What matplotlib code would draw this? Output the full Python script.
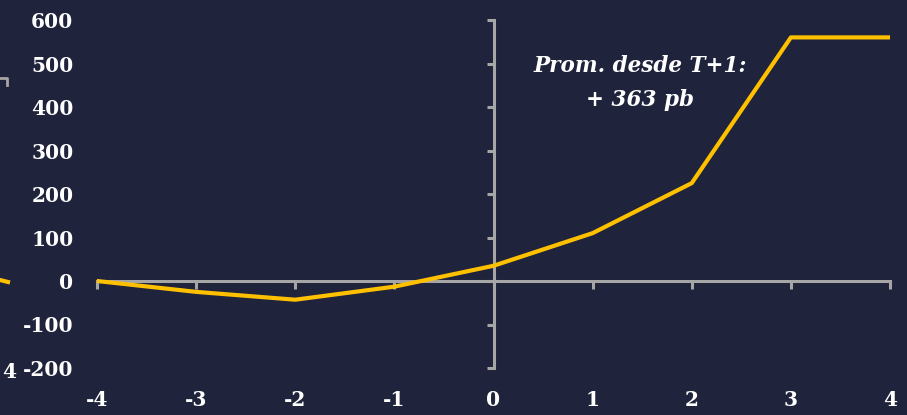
import matplotlib.pyplot as plt
from matplotlib.lines import Line2D

# data
periods = [-4, -3, -2, -1, 0, 1, 2, 3, 4]
spread_change = [0, -25, -43, -13, 35, 110, 225, 560, 560]
yticks = [-200, -100, 0, 100, 200, 300, 400, 500, 600]
note = "Prom. desde T+1:\n+ 363 pb"

bg = '#1f233b'
grey = '#a6a6a6'
yellow = '#ffc000'

plt.rcParams['font.family'] = ['DejaVu Serif']
plt.rcParams['font.weight'] = 'bold'
plt.rcParams['axes.unicode_minus'] = False

fig = plt.figure(figsize=(9.07, 4.15), dpi=100, facecolor=bg)
W, H = 907, 415
rect = [97 / W, 1 - 368 / H, (890 - 97) / W, (368 - 20) / H]

# axes carrying only the tick labels (low position)
ax = fig.add_axes(rect)
ax.set_facecolor(bg)
ax.set_xlim(-4, 4)
ax.set_ylim(-200, 600)
ax.set_xticks(periods)
ax.set_yticks(yticks)
for s in ax.spines.values():
    s.set_visible(False)
ax.tick_params(axis='y', length=0, pad=17, labelsize=14.5, labelcolor='white')
ax.tick_params(axis='x', length=0, pad=16, labelsize=14.5, labelcolor='white')
for lab in ax.get_xticklabels() + ax.get_yticklabels():
    lab.set_fontweight('bold')

# axes with the spines crossing at zero and the data line
axz = fig.add_axes(rect, sharex=ax, sharey=ax)
axz.patch.set_visible(False)
axz.spines['right'].set_visible(False)
axz.spines['top'].set_visible(False)
axz.spines['left'].set_position(('data', 0))
axz.spines['bottom'].set_position(('data', 0))
for side in ['left', 'bottom']:
    axz.spines[side].set_color(grey)
    axz.spines[side].set_linewidth(2.2)
axz.tick_params(axis='y', colors=grey, length=5, width=2.2, direction='out',
                labelleft=False)
axz.tick_params(axis='x', colors=grey, length=6, width=2.2, direction='out',
                labelbottom=False)

axz.plot(periods, spread_change, color=yellow, lw=3, solid_capstyle='round', zorder=3)

axz.text(1.48, 455, note, ha='center', va='center', color='white',
         fontsize=15.5, fontweight='bold', fontstyle='italic', linespacing=1.75)

# remnants of the neighbouring chart at the left edge
fig.add_artist(Line2D([0, 7 / W, 7 / W], [1 - 78 / H, 1 - 78 / H, 1 - 85 / H],
                      color=grey, lw=2))
fig.add_artist(Line2D([0, 8 / W], [1 - 280 / H, 1 - 282 / H], color=yellow, lw=3))
fig.text(0.002, 1 - 372 / H, '4', color='white', fontsize=14.5, fontweight='bold',
         ha='left', va='center')

fig.savefig('out.png', dpi=100, facecolor=bg)
